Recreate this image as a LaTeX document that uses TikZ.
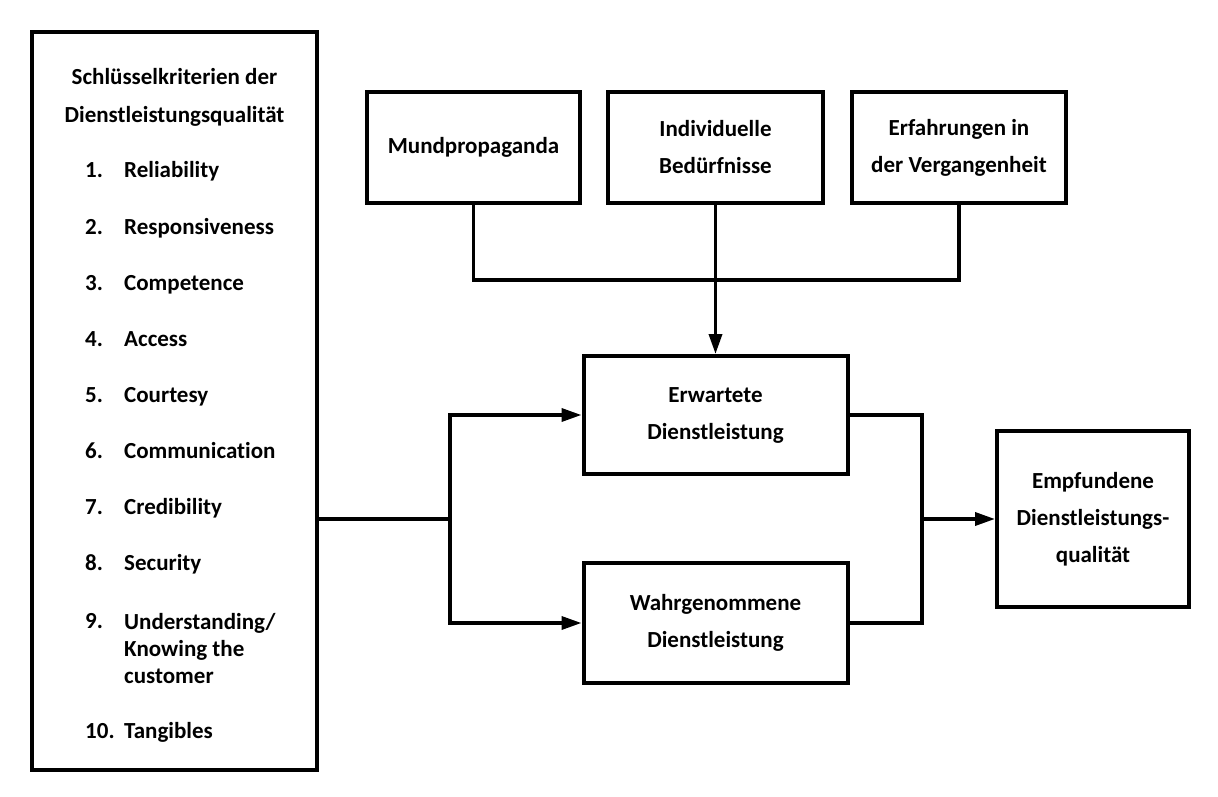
\documentclass[tikz,border=0pt]{standalone}
\usepackage{fontspec}
\setmainfont{Carlito}[Ligatures=CommonOff]
\usetikzlibrary{arrows.meta}

\tikzset{
  kasten/.style={draw, line width=4pt, inner sep=0pt, align=center,
    font=\bfseries\fontsize{23}{37}\selectfont},
  eintrag/.style={anchor=west, inner sep=0pt, align=left,
    font=\bfseries\fontsize{23}{27}\selectfont},
  zeile/.style={eintrag, text height=17pt, text depth=5pt},
  verbindung/.style={line width=3.5pt},
  pfeil/.style={verbindung, -{Triangle[length=20pt,width=13pt]}}
}

\begin{document}
\begin{tikzpicture}[x=1pt, y=-1pt]
  \useasboundingbox (0,0) rectangle (1218,797);

  %Kriterien links:
  \node[kasten, minimum width=285pt, minimum height=738pt] (kriterien) at (174.5,401) {};
  \node[kasten, draw=none, font=\bfseries\fontsize{23}{38}\selectfont] (titel) at (174.5,97)
     {Schlüsselkriterien der\\Dienstleistungsqualität};

  %Nummern
  \foreach \n/\y in {1/172,2/228,3/284,4/340,5/396,6/452,7/508,8/564,9/622,10/732}
     \node[zeile] (nr\n) at (85,\y) {\n.};
  %Kriterien
  \foreach \n/\y/\txt in {1/172/Reliability, 2/228/Responsiveness, 3/284/Competence,
      4/340/Access, 5/396/Courtesy, 6/452/Communication, 7/508/Credibility,
      8/564/Security, 10/732/Tangibles}
     \node[zeile] (krit\n) at (124,\y) {\txt};
  \node[eintrag] (krit9) at (124,649) {Understanding/\\Knowing the\\customer};

  %Einfluesse oben:
  \node[kasten, minimum width=213pt, minimum height=111pt] (mund) at (473.5,147.5) {Mundpropaganda};
  \node[kasten, minimum width=215pt, minimum height=111pt] (beduerfnisse) at (715.5,147.5)
     {Individuelle\\Bedürfnisse};
  \node[kasten, minimum width=214pt, minimum height=111pt] (erfahrung) at (959,147.5)
     {Erfahrungen in\\der Vergangenheit};

  %Dienstleistung
  \node[kasten, minimum width=264pt, minimum height=118pt] (erwartet) at (715.5,415)
     {Erwartete\\Dienstleistung};
  \node[kasten, minimum width=264pt, minimum height=120pt] (wahrgenommen) at (715.5,623)
     {Wahrgenommene\\Dienstleistung};
  \node[kasten, minimum width=192pt, minimum height=176pt] (empfunden) at (1093,519)
     {Empfundene\\Dienstleistungs-\\qualität};

  %Verbindungen oben
  \coordinate (sammel) at (715.5,280);
  \draw[verbindung] (mund.south) |- (sammel) -| (erfahrung.south);
  \draw[pfeil] (beduerfnisse.south) -- (erwartet.north);

  %links
  \coordinate (verzweigung) at (450,519);
  \draw[verbindung] (kriterien.east |- verzweigung) -- (verzweigung);
  \draw[pfeil] (verzweigung) |- (erwartet.west);
  \draw[pfeil] (verzweigung) |- (wahrgenommen.west);

  %rechts
  \coordinate (zusammen) at (922,519);
  \draw[verbindung] (erwartet.east) -| (zusammen);
  \draw[verbindung] (wahrgenommen.east) -| (zusammen);
  \draw[pfeil] (zusammen) -- (empfunden.west);
\end{tikzpicture}
\end{document}
